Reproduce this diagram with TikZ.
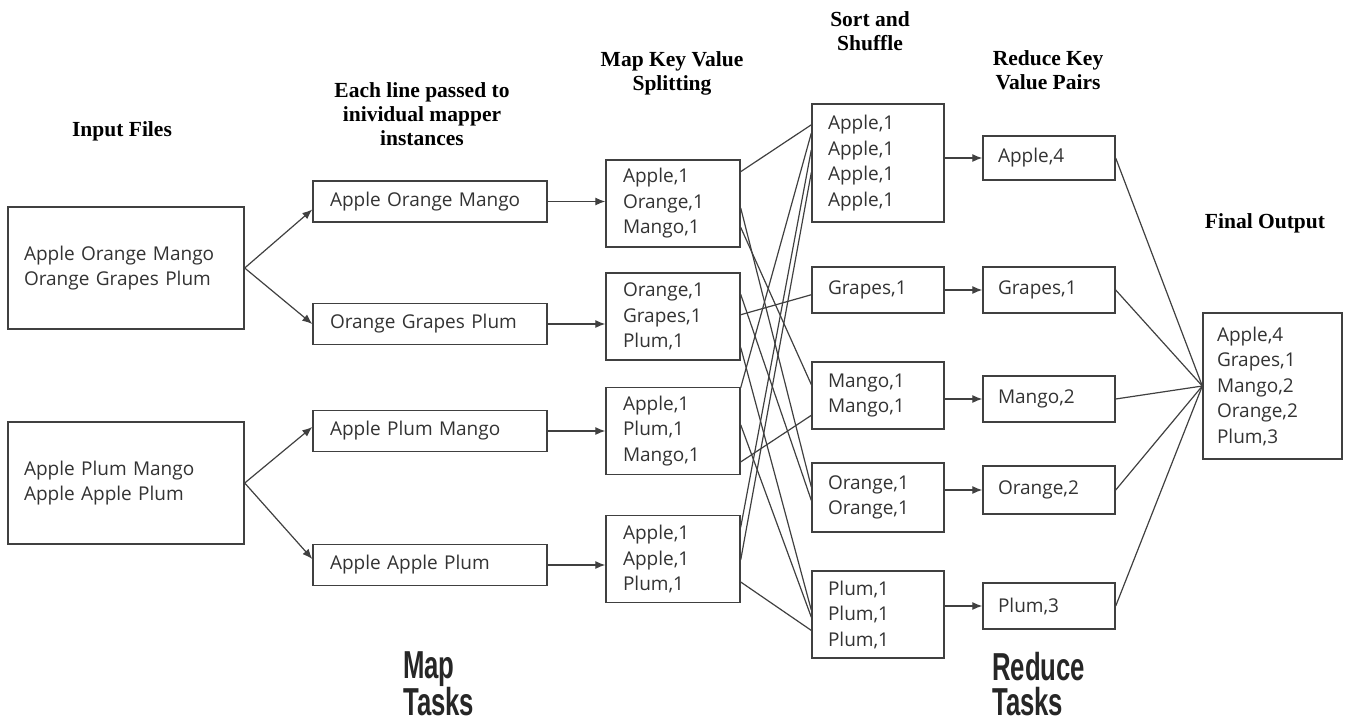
\documentclass[tikz,border=0pt]{standalone}
\usepackage{fontspec}
\usetikzlibrary{calc}
\usetikzlibrary{arrows.meta}
\newfontfamily\boxfont{Open Sans}
\newfontfamily\headfont{Liberation Serif}
\newfontfamily\taskfont{Liberation Sans}[FakeStretch=0.66]
\newcommand{\shuf}[4]{\draw[wire] ($(#1.north east)!#2!(#1.south east)$) -- ($(#3.north west)!#4!(#3.south west)$);}
\tikzset{
  box/.style={draw=black!75, line width=1.4pt, inner ysep=0pt, align=left, fill=white,
    font=\boxfont\fontsize{19}{25.5}\selectfont, text=black!80},
  infile/.style={box, text width=204pt, inner xsep=16pt, minimum height=122pt},
  linebox/.style={box, text width=200pt, inner xsep=17pt, minimum height=41pt},
  mapbox/.style={box, text width=100pt, inner xsep=17pt, minimum height=87pt},
  sortbox/.style={box, text width=100pt, inner xsep=16pt},
  redbox/.style={box, text width=102pt, inner xsep=15pt},
  outbox/.style={box, text width=111pt, inner xsep=14pt, minimum height=146pt},
  head/.style={font=\headfont\bfseries\fontsize{21.5}{24}\selectfont, align=center, inner sep=0pt},
  task/.style={font=\taskfont\bfseries\fontsize{39}{35}\selectfont, align=left, anchor=west, inner sep=0pt, text=black!85},
  wire/.style={draw=black!75, line width=1.2pt},
  arr/.style={wire, -{Latex[length=10pt,width=8pt]}}
}
\begin{document}
\begin{tikzpicture}[x=1pt, y=-1pt]
    \useasboundingbox (0,0) rectangle (1349,724);
    % headings
    \node[head] (hin) at (122,131) {Input Files};
    \node[head] (hline) at (422,114) {Each line passed to\\inividual mapper\\instances};
    \node[head] (hmap) at (672,73) {Map Key Value\\Splitting};
    \node[head] (hsort) at (870,31) {Sort and\\Shuffle};
    \node[head] (hred) at (1048,70) {Reduce Key\\Value Pairs};
    \node[head] (hfin) at (1265,223) {Final Output};
    % input files
    \node[infile] (in1) at (126,268) {Apple Orange Mango\\Orange Grapes Plum};
    \node[infile] (in2) at (126,483) {Apple Plum Mango\\Apple Apple Plum};
    % one line per mapper
    \node[linebox] (l1) at (430,201.5) {Apple Orange Mango};
    \node[linebox] (l2) at (430,324) {Orange Grapes Plum};
    \node[linebox] (l3) at (430,431) {Apple Plum Mango};
    \node[linebox] (l4) at (430,565) {Apple Apple Plum};
    % map output
    \node[mapbox] (m1) at (673,203.5) {Apple,1\\Orange,1\\Mango,1};
    \node[mapbox] (m2) at (673,316.5) {Orange,1\\Grapes,1\\Plum,1};
    \node[mapbox] (m3) at (673,431) {Apple,1\\Plum,1\\Mango,1};
    \node[mapbox] (m4) at (673,559) {Apple,1\\Apple,1\\Plum,1};
    % sort and shuffle
    \node[sortbox, minimum height=118pt] (s1) at (878,163) {Apple,1\\Apple,1\\Apple,1\\Apple,1};
    \node[sortbox, minimum height=46pt] (s2) at (878,290) {Grapes,1};
    \node[sortbox, minimum height=67pt] (s3) at (878,395.5) {Mango,1\\Mango,1};
    \node[sortbox, minimum height=69pt] (s4) at (878,497.5) {Orange,1\\Orange,1};
    \node[sortbox, minimum height=87pt] (s5) at (878,614.5) {Plum,1\\Plum,1\\Plum,1};
    % reduce
    \node[redbox, minimum height=44pt] (r1) at (1049,158) {Apple,4};
    \node[redbox, minimum height=46pt] (r2) at (1049,290) {Grapes,1};
    \node[redbox, minimum height=46pt] (r3) at (1049,399) {Mango,2};
    \node[redbox, minimum height=48pt] (r4) at (1049,490) {Orange,2};
    \node[redbox, minimum height=46pt] (r5) at (1049,606) {Plum,3};
    % final output
    \node[outbox] (fin) at (1272.5,386) {Apple,4\\Grapes,1\\Mango,2\\Orange,2\\Plum,3};
    % task labels
    \node[task] (tmap) at (403,684) {Map\\Tasks};
    \node[task] (tred) at (992,684) {Reduce\\Tasks};
    % split input
    \draw[arr] (in1.east) -- ([yshift=-8pt]l1.west);
    \draw[arr] (in1.east) -- (l2.west);
    \draw[arr] (in2.east) -- ([yshift=4pt]l3.west);
    \draw[arr] (in2.east) -- ([yshift=6pt]l4.west);
    % lines to mappers
    \draw[arr] (l1.east) -- (l1.east -| m1.west);
    \draw[arr] (l2.east) -- (l2.east -| m2.west);
    \draw[arr] (l3.east) -- (l3.east -| m3.west);
    \draw[arr] (l4.east) -- (l4.east -| m4.west);
    % shuffle
    \shuf{m1}{0.14}{s1}{0.18}
    \shuf{m1}{0.55}{s4}{0.35}
    \shuf{m1}{0.77}{s3}{0.34}
    \shuf{m2}{0.25}{s4}{0.54}
    \shuf{m2}{0.48}{s2}{0.60}
    \shuf{m2}{0.85}{s5}{0.45}
    \shuf{m3}{0.01}{s1}{0.25}
    \shuf{m3}{0.43}{s5}{0.53}
    \shuf{m3}{0.85}{s3}{0.79}
    \shuf{m4}{0.14}{s1}{0.39}
    \shuf{m4}{0.51}{s1}{0.58}
    \shuf{m4}{0.76}{s5}{0.68}
    % sort to reduce
    \draw[arr] (r1.west -| s1.east) -- (r1.west);
    \draw[arr] (r2.west -| s2.east) -- (r2.west);
    \draw[arr] (r3.west -| s3.east) -- (r3.west);
    \draw[arr] (r4.west -| s4.east) -- (r4.west);
    \draw[arr] (r5.west -| s5.east) -- (r5.west);
    % reduce to output
    \draw[wire] (r1.east) -- (fin.west);
    \draw[wire] (r2.east) -- (fin.west);
    \draw[wire] (r3.east) -- (fin.west);
    \draw[wire] (r4.east) -- (fin.west);
    \draw[wire] (r5.east) -- (fin.west);
\end{tikzpicture}
\end{document}
